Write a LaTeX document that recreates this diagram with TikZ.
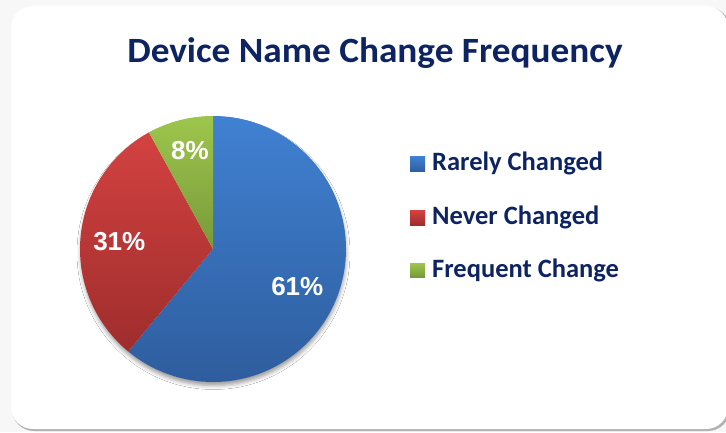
\documentclass[tikz,border=0pt]{standalone}
\usepackage{fontspec}
\setmainfont{Carlito}
\newfontfamily\pctfont{Liberation Sans}
\usetikzlibrary{shadows.blur}
\definecolor{navy}{RGB}{14,36,98}
\definecolor{blueT}{RGB}{64,129,210}
\definecolor{blueB}{RGB}{46,93,158}
\definecolor{redT}{RGB}{211,66,65}
\definecolor{redB}{RGB}{158,45,44}
\definecolor{greenT}{RGB}{158,198,76}
\definecolor{greenB}{RGB}{120,153,58}
\tikzset{
  pct/.style={text=white, font=\pctfont\bfseries\fontsize{26}{28}\selectfont, anchor=base, inner sep=0pt},
  legtext/.style={text=navy, font=\bfseries\fontsize{26.5}{28}\selectfont, anchor=base west, inner sep=0pt},
  legbox/.style={minimum size=15pt, inner sep=0pt, draw=none},
}
\begin{document}
\begin{tikzpicture}[x=1pt,y=1pt]
  \useasboundingbox (0,0) rectangle (726,432);
  \fill[white!97!black] (0,0) rectangle (726,432);
  % card with its shadow
  \fill[gray!60, rounded corners=22pt] (12,1) rectangle (730,425);
  \fill[white, rounded corners=22pt] (11,3) rectangle (728,426);
  % title
  \node[text=navy, font=\bfseries\fontsize{35.5}{40}\selectfont, anchor=base, inner sep=0pt] (title) at (375,369.3) {\scalebox{1.05}[1]{Device Name Change Frequency}};
  % pie
  \coordinate (c) at (213,183);
  \fill[white, blur shadow={shadow xshift=0.5pt, shadow yshift=-4pt, shadow blur radius=4pt, shadow opacity=40}] (c) circle (132.5);
  \shade[top color=blueT, bottom color=blueB] (c) -- ++(90:133) arc (90:-129.6:133) -- cycle;
  \shade[top color=redT, bottom color=redB] (c) -- ++(-129.6:133) arc (-129.6:-241.2:133) -- cycle;
  \shade[top color=greenT, bottom color=greenB] (c) -- ++(118.8:133) arc (118.8:90:133) -- cycle;
  \node[pct] (p61) at (297.3,136.3) {61\%};
  \node[pct] (p31) at (119.3,181.3) {31\%};
  \node[pct] (p8) at (190,272.7) {8\%};
  % legend
  \shade[top color=blueT, bottom color=blueB] (410,260.3) rectangle (425,275.3);
  \node[legbox] (k1) at (417.5,267.8) {};
  \node[legtext] (l1) at (432,261.3) {Rarely Changed};
  \shade[top color=redT, bottom color=redB] (410,207) rectangle (425,222);
  \node[legbox] (k2) at (417.5,214.5) {};
  \node[legtext] (l2) at (432,208) {Never Changed};
  \shade[top color=greenT, bottom color=greenB] (410,155) rectangle (425,169);
  \node[legbox] (k3) at (417.5,162) {};
  \node[legtext] (l3) at (432,154.7) {Frequent Change};
\end{tikzpicture}
\end{document}
